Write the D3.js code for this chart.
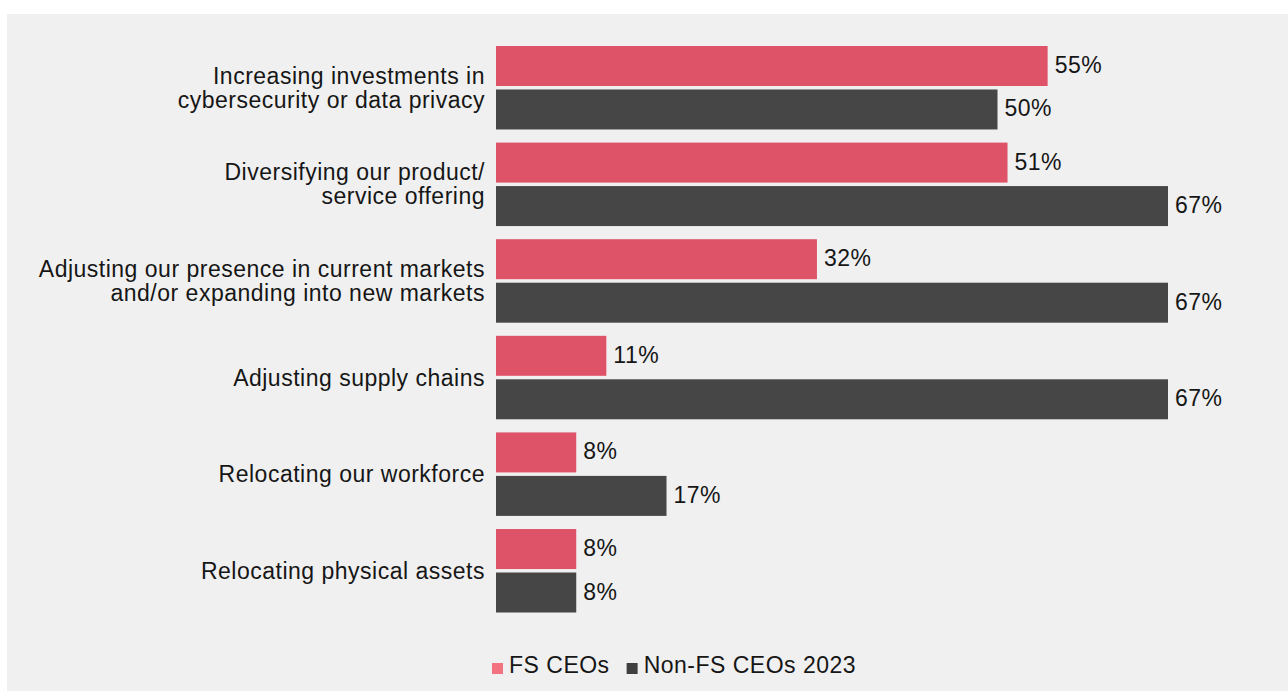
<!DOCTYPE html>
<html>
<head>
<meta charset="utf-8">
<script src="https://cdn.jsdelivr.net/npm/d3@7"></script>
<style>
  html, body { margin: 0; padding: 0; background: #ffffff; }
  svg { display: block; }
  text { font-family: "Liberation Sans", Arial, Helvetica, sans-serif; fill: #161616; }
</style>
</head>
<body>
<svg id="chart" width="1288" height="691"></svg>
<script>
// Actions taken by CEOs, FS vs non-FS (share of respondents, %)
const categories = [
  "Increasing investments in\ncybersecurity or data privacy",
  "Diversifying our product/\nservice offering",
  "Adjusting our presence in current markets\nand/or expanding into new markets",
  "Adjusting supply chains",
  "Relocating our workforce",
  "Relocating physical assets"
];
const seriesNames = ["FS CEOs", "Non-FS CEOs 2023"];
const fsValues    = [55, 51, 32, 11, 8, 8];
const nonFsValues = [50, 67, 67, 67, 17, 8];

const barColors    = ["#df5369", "#464646"];
const legendColors = ["#f2737f", "#3f3f3f"];

const FONT_SIZE = "23px";
const LETTER_SPACING = "0.5px";

const svg = d3.select("#chart");
const W = 1288, H = 691;

// panel background
svg.append("rect")
  .attr("x", 7).attr("y", 14)
  .attr("width", W - 7).attr("height", H - 14)
  .attr("fill", "#f0f0f0");

const x = d3.scaleLinear().domain([0, 67]).range([496, 1168]);

const y0 = d3.scaleBand()
  .domain(categories)
  .range([46, 612.5])
  .paddingInner(0.136)
  .paddingOuter(0);

const y1 = d3.scaleBand()
  .domain(seriesNames)
  .range([0, y0.bandwidth()])
  .paddingInner(0.08);

const rows = categories.map((c, i) => ({
  category: c,
  values: [
    { series: seriesNames[0], value: fsValues[i] },
    { series: seriesNames[1], value: nonFsValues[i] }
  ]
}));

const groups = svg.append("g").selectAll("g")
  .data(rows)
  .join("g")
  .attr("transform", d => `translate(0,${y0(d.category)})`);

groups.selectAll("rect")
  .data(d => d.values)
  .join("rect")
  .attr("x", x(0))
  .attr("y", d => y1(d.series))
  .attr("width", d => x(d.value) - x(0))
  .attr("height", y1.bandwidth())
  .attr("fill", (d, i) => barColors[i]);

groups.selectAll("text.val")
  .data(d => d.values)
  .join("text")
  .attr("class", "val")
  .attr("x", d => x(d.value) + 7)
  .attr("y", d => y1(d.series) + y1.bandwidth() / 2 - 1)
  .attr("dominant-baseline", "central")
  .style("font-size", FONT_SIZE)
  .style("letter-spacing", LETTER_SPACING)
  .text(d => d.value + "%");

// category labels, right-aligned against the bars
const lineH = 24;
const labels = svg.append("g").selectAll("text")
  .data(categories)
  .join("text")
  .attr("text-anchor", "end")
  .style("font-size", FONT_SIZE)
  .style("letter-spacing", LETTER_SPACING);

labels.each(function (c) {
  const lines = c.split("\n");
  const cy = y0(c) + y0.bandwidth() / 2;
  d3.select(this).selectAll("tspan")
    .data(lines)
    .join("tspan")
    .attr("x", x(0) - 11)
    .attr("y", (l, i) => cy + (i - (lines.length - 1) / 2) * lineH)
    .attr("dominant-baseline", "central")
    .text(l => l);
});

// legend
const legend = svg.append("g").attr("transform", "translate(492,663)");
let lx = 0;
seriesNames.forEach((name, i) => {
  const g = legend.append("g").attr("transform", `translate(${lx},0)`);
  g.append("rect").attr("width", 11).attr("height", 11).attr("fill", legendColors[i]);
  const t = g.append("text")
    .attr("x", 17).attr("y", 10)
    .style("font-size", FONT_SIZE)
    .style("letter-spacing", LETTER_SPACING)
    .text(name);
  lx += 17 + t.node().getComputedTextLength() + 17;
});
</script>
</body>
</html>
